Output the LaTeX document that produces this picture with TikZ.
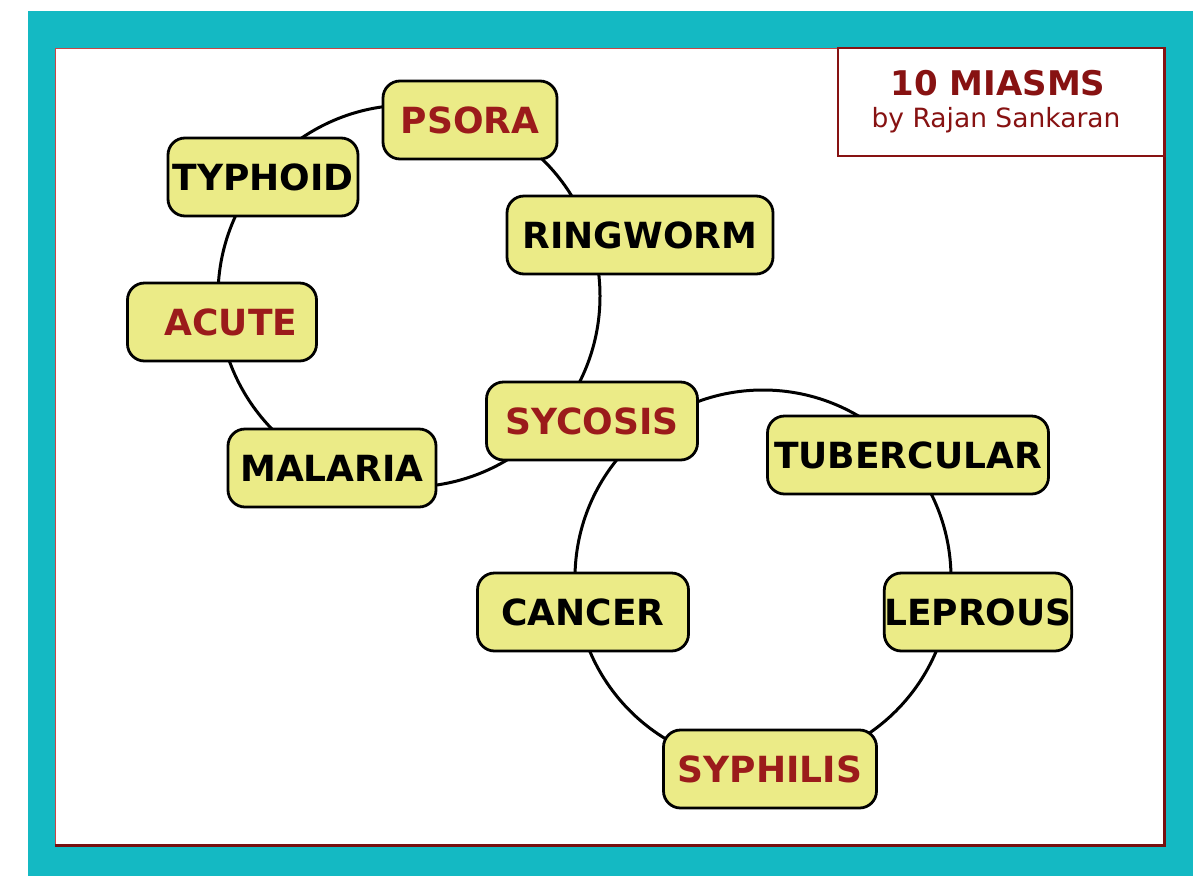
\documentclass[tikz,border=0pt]{standalone}
\usepackage{fontspec}
\setmainfont{DejaVu Sans}
\definecolor{teal1}{RGB}{20,185,195}
\definecolor{nodefill}{RGB}{235,235,135}
\definecolor{redtxt}{RGB}{155,27,27}
\definecolor{titlered}{RGB}{135,18,18}
\definecolor{borderred}{RGB}{120,16,16}
\definecolor{thinred}{RGB}{200,70,70}
\tikzset{
  miasm/.style={draw=black, line width=2.8pt, fill=nodefill, rounded corners=17pt,
    inner sep=0pt, minimum height=78pt, font=\fontsize{36}{38}\selectfont\bfseries},
  redlbl/.style={text=redtxt},
  blklbl/.style={text=black},
  ring/.style={draw=black, line width=3pt}
}
\begin{document}
\begin{tikzpicture}[x=1pt,y=-1pt]
\useasboundingbox (0,0) rectangle (1198,876);
\fill[white] (0,0) rectangle (1198,876);
\fill[teal1] (28,11) rectangle (1193,876);
\fill[white] (55,48) rectangle (1165,846);
\draw[thinred, line width=1pt] (55,846) -- (55,48) -- (1165,48);
\draw[borderred, line width=3pt] (55,845.5) -- (1164.5,845.5) -- (1164.5,48);
% title box
\draw[titlered, line width=2.6pt, fill=white] (838,48) rectangle (1164.5,156);
\node[text=titlered, font=\fontsize{34}{36}\selectfont\bfseries] (title) at (998,83) {10 MIASMS};
\node[text=titlered, font=\fontsize{26.5}{28}\selectfont] (author) at (996,120) {by Rajan Sankaran};
% rings
\coordinate (c1) at (409,296);
\coordinate (c2) at (763,578);
\draw[ring] (c1) circle[radius=191pt];
\draw[ring] (c2) circle[radius=188pt];
% nodes
\node[miasm, redlbl, minimum width=174pt] (psora) at (470,120) {PSORA};
\node[miasm, blklbl, minimum width=190pt] (typhoid) at (263,177) {TYPHOID};
\node[miasm, blklbl, minimum width=266pt] (ringworm) at (640,235) {RINGWORM};
\node[miasm, redlbl, minimum width=189pt] (acute) at (222,322) {\hspace*{18pt}ACUTE};
\node[miasm, blklbl, minimum width=208pt] (malaria) at (332,468) {MALARIA};
\node[miasm, redlbl, minimum width=211pt] (sycosis) at (592,421) {SYCOSIS};
\node[miasm, blklbl, minimum width=281pt] (tubercular) at (908,455) {TUBERCULAR};
\node[miasm, blklbl, minimum width=211pt] (cancer) at (583,612) {CANCER};
\node[miasm, blklbl, minimum width=183pt] (leprous) at (978,612) {LEPROUS};
\node[miasm, redlbl, minimum width=213pt] (syphilis) at (770,769) {SYPHILIS};
\end{tikzpicture}
\end{document}
